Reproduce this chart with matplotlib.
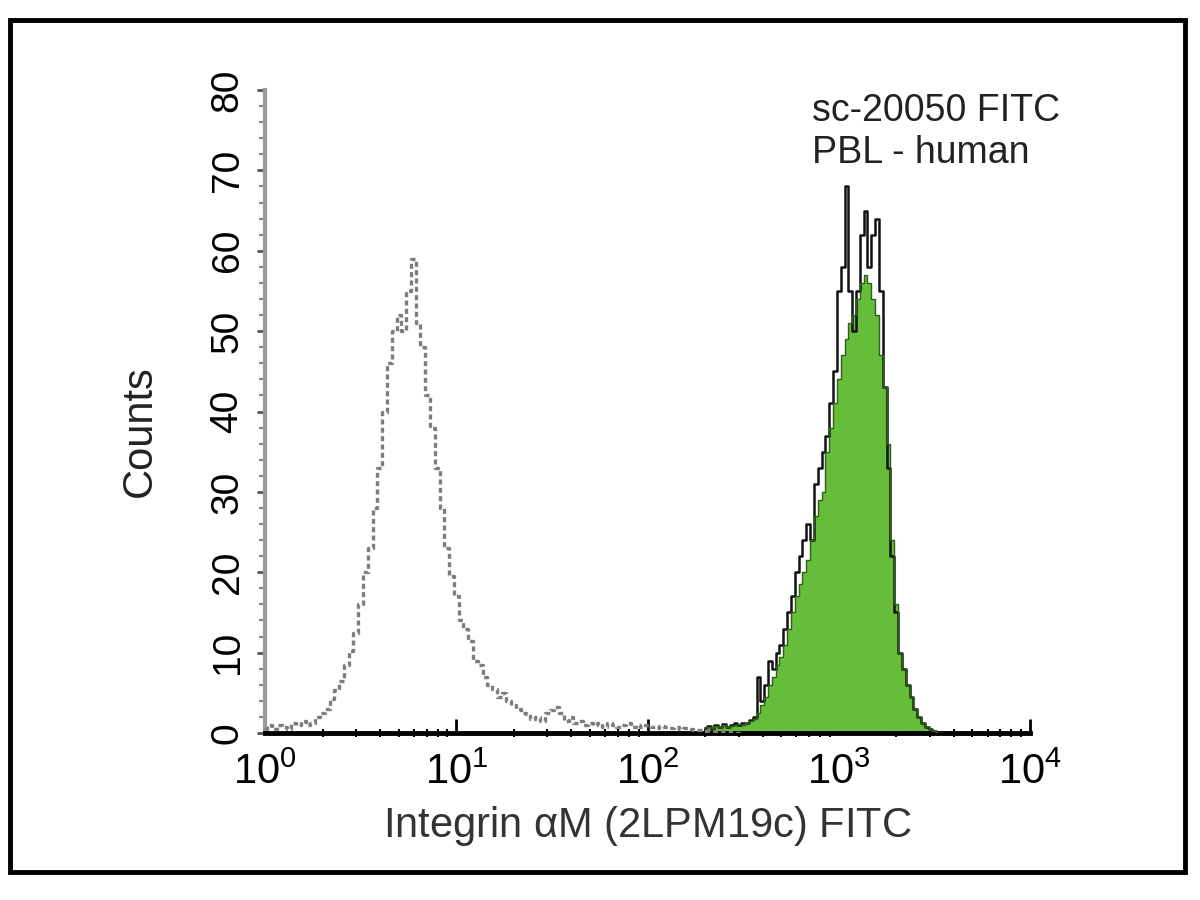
import numpy as np
import matplotlib
matplotlib.use('Agg')
import matplotlib.pyplot as plt
from matplotlib.patches import Rectangle
from matplotlib.ticker import FixedLocator, MultipleLocator

plt.rcParams['font.family'] = ['Liberation Sans Narrow', 'Liberation Sans', 'DejaVu Sans']
plt.rcParams['mathtext.fontset'] = 'custom'
plt.rcParams['mathtext.rm'] = 'Liberation Sans'

# isotype control histogram (grey outline), channels every 0.025 decade from 10^0
control_start = 0.0
control_step = 0.025
control_counts = [
    0.5, 1.0, 0.5, 1.0, 0.8, 0.5, 1.2, 1.0, 1.5, 1.0,
    1.2, 2.0, 2.5, 3.0, 4.2, 5.3, 6.5, 8.5, 10.2, 12.5,
    16, 20, 23, 28, 33, 40, 46, 50, 52, 50,
    55, 59, 51, 48, 42, 38, 33, 28, 23, 19.5,
    17, 14, 13, 11.5, 9, 8.5, 7, 6, 5.5, 4.5,
    5, 4, 3.5, 3, 2.5, 2.4, 1.8, 2, 1.5, 2.5,
    2.8, 3.2, 2.5, 1.5, 2, 1.2, 1.5, 1, 1.3, 1,
    1.2, 0.8, 1.2, 1, 0.8, 1, 1.2, 0.8, 1, 0.7,
    1, 0.8, 0.6, 0.9, 0.7, 0.6, 0.8, 0.5, 0.6, 0.5,
    0.4, 0.4, 0.3, 0.3, 0.2, 0.2, 0.1, 0.1, 0, 0, 0,
]

# stained sample (green fill + black outline), channels every 0.02 decade from 10^2.3
sample_start = 2.30
sample_step = 0.02
sample_fill = [
    0.5, 0.8, 0.6, 0.9, 0.7, 1.0, 0.8, 0.9, 1.0, 1.1,
    1.0, 1.2, 1.5, 1.8, 2.5, 3.5, 4.5, 6, 7, 8.5,
    9.5, 11, 13, 15, 17, 18.5, 20, 21.5, 24, 27,
    29, 30, 35, 38, 41, 44, 47, 49, 51, 52,
    54, 56, 57, 56, 54, 52, 47, 43, 36, 24,
    16, 10, 8, 6, 4.5, 3, 2, 1.2, 0.8, 0.5,
    0.3, 0, 0,
]
sample_line = [
    0.6, 0.9, 0.5, 1.0, 0.8, 1.1, 0.7, 1.0, 1.2, 1.0,
    1.3, 1.2, 1.6, 2, 7, 4, 6, 9, 8, 10,
    11, 13, 15, 17, 20, 22, 24, 26, 24, 31,
    33, 35, 37, 41, 45, 55, 58, 68, 55, 50,
    55, 62, 65, 58, 62, 64, 55, 43, 33, 22,
    15, 10, 8, 6, 4.5, 3, 2, 1.2, 0.8, 0.5,
    0.3, 0, 0,
]

x_decades = [0, 1, 2, 3, 4]
y_ticks = [0, 10, 20, 30, 40, 50, 60, 70, 80]

control_x = 10 ** (control_start + control_step * np.arange(len(control_counts)))
sample_x = 10 ** (sample_start + sample_step * np.arange(len(sample_fill)))

fig = plt.figure(figsize=(12, 9), dpi=100)
ax = fig.add_axes([265 / 1200, 1 - 733 / 900, 765 / 1200, 643 / 900])

# green filled histogram with black outline
ax.fill_between(sample_x, sample_fill, 0, color='#66bd3a', step='mid', linewidth=0, zorder=2)
ax.plot(sample_x, sample_line, color='#111111', drawstyle='steps-mid', lw=1.8, zorder=3)
ax.plot(sample_x, sample_fill, color='#2f5f1a', drawstyle='steps-mid', lw=1.0, zorder=3)

# grey control outline, stippled like the scanned original
ax.plot(control_x, control_counts, color='#7d7d7d', drawstyle='steps-mid', lw=2.4,
        linestyle=(0, (1.5, 1)), zorder=4)

ax.set_xscale('log')
ax.set_xlim(1, 1e4)
ax.set_ylim(0, 80)

ax.xaxis.set_major_locator(FixedLocator([10 ** d for d in x_decades]))
ax.set_xticklabels([r'$\mathregular{10^{%d}}$' % d for d in x_decades], fontsize=30)
ax.yaxis.set_major_locator(FixedLocator(y_ticks))
ax.yaxis.set_minor_locator(MultipleLocator(2))
ax.set_yticklabels([str(v) for v in y_ticks], rotation=90, va='center', fontsize=28)

ax.tick_params(axis='x', which='major', direction='in', length=10, width=2, pad=14, color='black')
ax.tick_params(axis='x', which='minor', direction='inout', length=6, width=1.5, color='black')
ax.tick_params(axis='y', which='major', direction='out', length=6, width=2, pad=8, color='#555555')
ax.tick_params(axis='y', which='minor', direction='out', length=4, width=1.5, color='#888888')

for side in ['top', 'right']:
    ax.spines[side].set_visible(False)
ax.spines['bottom'].set_linewidth(3.5)
ax.spines['bottom'].set_color('black')
ax.spines['left'].set_linewidth(3)
ax.spines['left'].set_color('#9a9a9a')

ax.set_xlabel(r'Integrin $\mathregular{\alpha}$M (2LPM19c) FITC', fontsize=30, color='#333333', labelpad=8)
ax.set_ylabel('Counts', fontsize=30, color='#222222')
ax.yaxis.set_label_coords(-0.137, 0.47)

ax.text(0.715, 0.995, 'sc-20050 FITC\nPBL - human', transform=ax.transAxes,
        fontsize=27, va='top', ha='left', linespacing=1.2, color='#222222')

# black frame around the whole picture
fig.patches.append(Rectangle((10 / 1200, 1 - 872 / 900), 1175 / 1200, 852 / 900,
                             transform=fig.transFigure, fill=False,
                             edgecolor='black', linewidth=3.5))

fig.savefig('out.png', dpi=100)
